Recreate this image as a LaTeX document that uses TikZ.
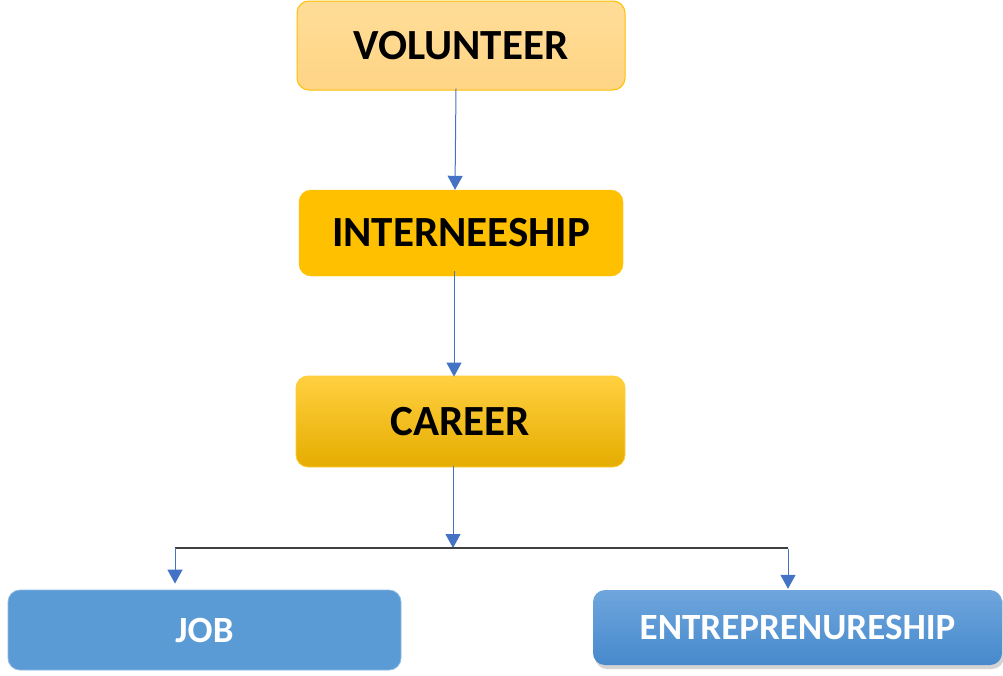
\documentclass[tikz,border=0pt]{standalone}
\usepackage{fontspec}
\setmainfont{Carlito}
\usetikzlibrary{arrows.meta,shadows}
\definecolor{arrowblue}{HTML}{4472C4}
\definecolor{gold}{HTML}{FFC000}
\definecolor{lightgold}{HTML}{FFD98C}
\definecolor{jobblue}{HTML}{5B9BD5}
\definecolor{etop}{HTML}{6FA6DD}
\definecolor{ebot}{HTML}{4689CC}
\tikzset{
  box/.style={rounded corners=12pt, inner sep=0pt, align=center, font=\fontsize{43}{50}\selectfont\bfseries},
  bluebox/.style={box, font=\fontsize{37}{44}\selectfont\bfseries, text=white},
  conn/.style={draw=arrowblue, line width=1pt, -{Triangle[width=15pt,length=14pt]}},
  bar/.style={draw=black!75, line width=1.5pt},
}
\begin{document}
\begin{tikzpicture}[x=1pt,y=-1pt]
\useasboundingbox (0,0) rectangle (1003,675);
\node[box, draw=gold, line width=1pt, top color=lightgold!90!white, bottom color=lightgold!95!orange,
      minimum width=328pt, minimum height=89pt] (V) at (461,45.5) {VOLUNTEER};
\node[box, fill=gold, draw=gold, minimum width=324pt, minimum height=86pt] (I) at (461,233) {INTERNEESHIP};
\node[box, draw=gold!80!white, line width=0.8pt, top color=gold!75!white, middle color=gold, bottom color=gold!90!black,
      minimum width=329pt, minimum height=91pt] (C) at (460.5,421.5) {CAREER};
\node[bluebox, fill=jobblue, draw=jobblue!70!white, line width=0.8pt, minimum width=393pt, minimum height=80pt] (J) at (204.5,630) {JOB};
\node[bluebox, top color=etop, bottom color=ebot, drop shadow={shadow xshift=2pt, shadow yshift=-4pt, opacity=0.35},
      minimum width=409pt, minimum height=75pt] (E) at (797.5,627.5) {ENTREPRENURESHIP};
\coordinate (M) at (453,548);
\coordinate (L) at (175,548);
\coordinate (R) at (788,548);
\draw[conn] ([xshift=-5pt,yshift=2pt]V.south) -- ([xshift=-6pt]I.north);
\draw[conn] ([xshift=-7pt,yshift=5pt]I.south) -- ([xshift=-6.5pt,yshift=-1pt]C.north);
\draw[conn] ([xshift=-7.5pt,yshift=1pt]C.south) -- (M);
\draw[bar] (L) -- (R);
\draw[conn] (L) -- ([xshift=-29.5pt,yshift=6pt]J.north);
\draw[conn] ([yshift=-1pt]R) -- ([xshift=-9.5pt,yshift=1pt]E.north);
\end{tikzpicture}
\end{document}
